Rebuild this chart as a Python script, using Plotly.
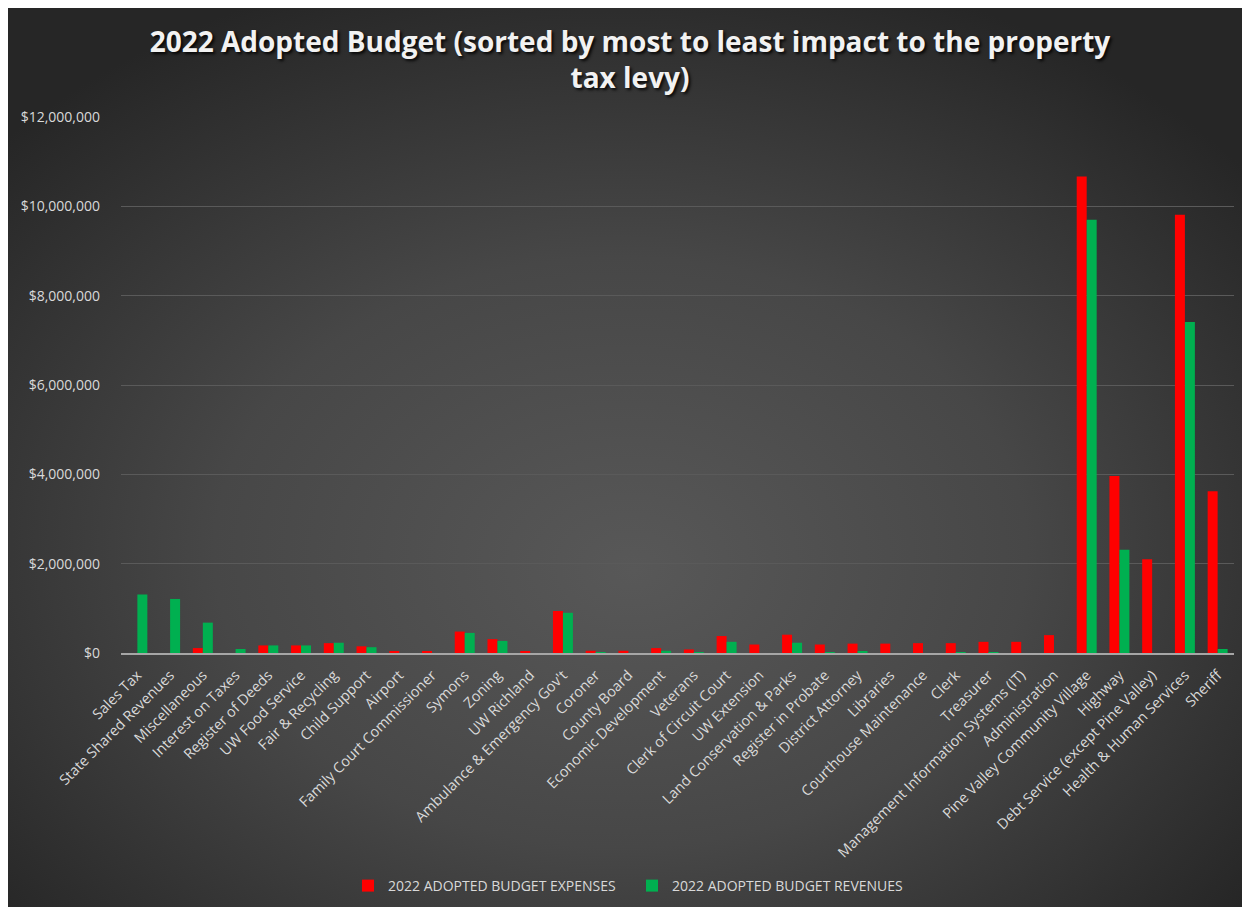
import base64
import plotly.graph_objects as go

categories = [
    "Sales Tax", "State Shared Revenues", "Miscellaneous", "Interest on Taxes",
    "Register of Deeds", "UW Food Service", "Fair & Recycling", "Child Support",
    "Airport", "Family Court Commissioner", "Symons", "Zoning", "UW Richland",
    "Ambulance & Emergency Gov't", "Coroner", "County Board", "Economic Development",
    "Veterans", "Clerk of Circuit Court", "UW Extension", "Land Conservation & Parks",
    "Register in Probate", "District Attorney", "Libraries", "Courthouse Maintenance",
    "Clerk", "Treasurer", "Management Information Systems (IT)", "Administration",
    "Pine Valley Community Village", "Highway", "Debt Service (except Pine Valley)",
    "Health & Human Services", "Sheriff",
]

expenses = [
    0, 0, 110000, 0,
    170000, 170000, 220000, 150000,
    30000, 30000, 480000, 310000, 40000,
    940000, 50000, 50000, 110000,
    80000, 380000, 190000, 410000,
    190000, 210000, 210000, 220000,
    220000, 250000, 250000, 400000,
    10670000, 3960000, 2100000,
    9810000, 3620000,
]

revenues = [
    1310000, 1210000, 680000, 90000,
    170000, 170000, 230000, 130000,
    0, 0, 450000, 270000, 0,
    900000, 10000, 0, 50000,
    10000, 250000, 0, 230000,
    10000, 30000, 0, 0,
    10000, 10000, 0, 0,
    9700000, 2310000, 0,
    7410000, 90000,
]

series_names = ["2022 ADOPTED BUDGET EXPENSES", "2022 ADOPTED BUDGET REVENUES"]
series_colors = ["#FF0000", "#00B050"]

W, H = 1250, 907
ML, MR, MT, MB = 113, 24, 109, 262
PW, PH = W - ML - MR, H - MT - MB

FONT = "Open Sans"
TXT = "#d9d9d9"

fig = go.Figure()
for name, vals, col in zip(series_names, [expenses, revenues], series_colors):
    fig.add_trace(go.Bar(
        x=categories, y=vals, name=name,
        marker=dict(color=col, line=dict(width=0)),
    ))

# radial gradient background (svg)
svg = (
    '<svg xmlns="http://www.w3.org/2000/svg" width="1250" height="907" '
    'viewBox="0 0 1250 907" preserveAspectRatio="none">'
    '<defs><radialGradient id="g" cx="0.48" cy="0.58" r="0.65" fx="0.5" fy="0.62">'
    '<stop offset="0" stop-color="#585858"/>'
    '<stop offset="0.5" stop-color="#474747"/>'
    '<stop offset="1" stop-color="#262626"/>'
    '</radialGradient></defs>'
    '<rect width="1250" height="907" fill="url(#g)"/></svg>'
)
src = "data:image/svg+xml;base64," + base64.b64encode(svg.encode()).decode()
x0 = -ML / PW
x1 = (W - ML) / PW
ytop = 1 + MT / PH
ybot = -MB / PH
fig.add_layout_image(dict(
    source=src, xref="paper", yref="paper",
    x=x0, y=ytop, sizex=x1 - x0, sizey=ytop - ybot,
    xanchor="left", yanchor="top", sizing="stretch", layer="below",
))

fig.update_layout(
    width=W, height=H,
    margin=dict(l=ML, r=MR, t=MT, b=MB),
    paper_bgcolor="#3a3a3a",
    plot_bgcolor="rgba(0,0,0,0)",
    barmode="group", bargap=0.39, bargroupgap=0.0,
    font=dict(family=FONT, color=TXT, size=12),
    title=dict(
        text="2022 Adopted Budget (sorted by most to least impact to the property<br>tax levy)",
        x=622 / W, xanchor="center", y=1 - 44 / H, yanchor="middle",
        font=dict(family=FONT, size=28, color="#f2f2f2", weight="bold",
                  shadow="2px 2px 3px rgba(0,0,0,0.85)"),
    ),
    legend=dict(
        orientation="h", x=(340 - ML) / PW, xanchor="left",
        y=(H - MB - 878) / PH, yanchor="middle",
        font=dict(family=FONT, size=14, color=TXT),
        bgcolor="rgba(0,0,0,0)", itemwidth=30, tracegroupgap=0,
        entrywidth=239, entrywidthmode="pixels",
    ),
    xaxis=dict(
        tickangle=-45, tickfont=dict(family=FONT, size=14.5, color=TXT),
        showgrid=False, showline=True, linecolor="#a6a6a6", linewidth=2,
        ticks="", zeroline=False, ticklabelstandoff=6,
    ),
    yaxis=dict(
        range=[0, 12000000], dtick=2000000, tickformat="$,.0f",
        showgrid=True, gridcolor="#5a5a5a", gridwidth=1,
        zeroline=False, showline=False, ticks="",
        tickfont=dict(family=FONT, size=14, color=TXT),
        ticklabelstandoff=20,
    ),
)

fig.write_html("out.html")
